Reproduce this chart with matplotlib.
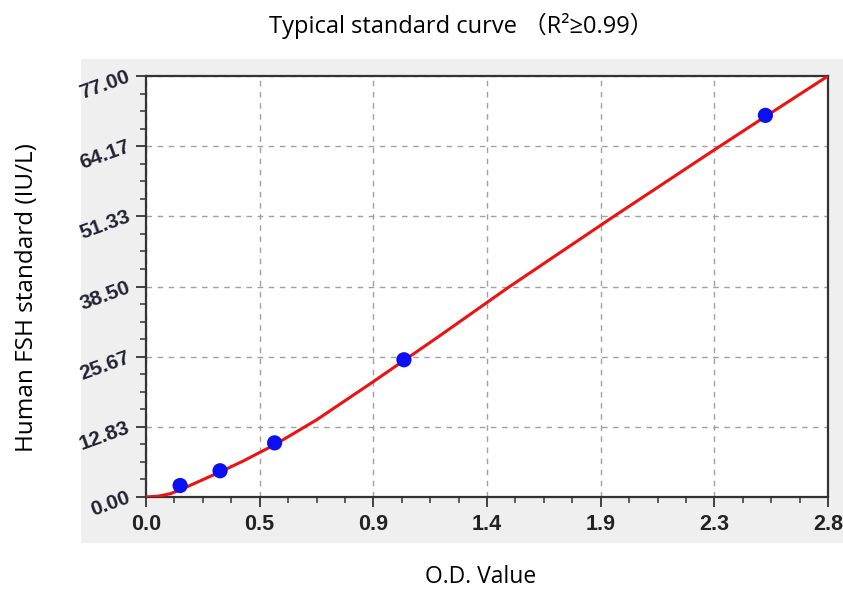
import numpy as np
import matplotlib
matplotlib.use("Agg")
import matplotlib.pyplot as plt
from matplotlib.ticker import FixedLocator, AutoMinorLocator

# standard points (O.D., concentration)
od_points = [0.140, 0.304, 0.528, 1.059, 2.543]
conc_points = [2.1, 4.8, 9.9, 25.1, 69.8]

# fitted curve
curve_od = [0.0, 0.05, 0.10, 0.15, 0.20, 0.30, 0.40, 0.53, 0.70, 0.93, 1.06,
            1.20, 1.49, 1.92, 2.32, 2.54, 2.80]
curve_conc = [0.0, 0.15, 0.6, 1.5, 2.5, 4.5, 6.6, 9.6, 14.1, 21.0, 25.0,
              29.3, 38.4, 51.3, 63.1, 69.5, 77.0]

x_ticks = np.linspace(0, 2.8, 7)
x_ticklabels = ["0.0", "0.5", "0.9", "1.4", "1.9", "2.3", "2.8"]
y_ticks = np.linspace(0, 77, 7)
y_ticklabels = ["0.00", "12.83", "25.67", "38.50", "51.33", "64.17", "77.00"]

fig = plt.figure(figsize=(8.43, 5.90), dpi=100)
fig.patch.set_facecolor("white")

# gray panel behind the plot
bg = fig.add_axes([81 / 843, 1 - 543 / 590, 1 - 81 / 843, (543 - 59) / 590], zorder=0)
bg.set_facecolor("#efefef")
bg.set_xticks([])
bg.set_yticks([])
for s in bg.spines.values():
    s.set_visible(False)

ax = fig.add_axes([146 / 843, 1 - 497 / 590, (828 - 146) / 843, (497 - 76) / 590], zorder=1)
ax.set_facecolor("white")

ax.plot(curve_od, curve_conc, color="#ee1111", lw=2.2, zorder=3)
ax.scatter(od_points, conc_points, s=120, color="#0a10f0", zorder=4, edgecolors="none")

ax.set_xlim(0, 2.8)
ax.set_ylim(0, 77)
ax.xaxis.set_major_locator(FixedLocator(x_ticks))
ax.yaxis.set_major_locator(FixedLocator(y_ticks))
ax.set_xticklabels(x_ticklabels, fontfamily="Liberation Sans", fontweight="bold",
                   fontsize=15.5, color="#222222")
ax.set_yticklabels(y_ticklabels, fontfamily="Liberation Sans", fontweight="bold",
                   fontsize=15, color="#222233", rotation=20,
                   rotation_mode="anchor", ha="right", va="center")
ax.xaxis.set_minor_locator(AutoMinorLocator(4))
ax.yaxis.set_minor_locator(AutoMinorLocator(4))
ax.tick_params(which="major", direction="out", length=7, width=1.3, color="#333333")
ax.tick_params(axis="x", which="major", pad=5)
ax.tick_params(axis="y", which="major", pad=5)
ax.tick_params(which="minor", direction="out", length=4, width=1.1, color="#333333")

ax.grid(True, which="major", linestyle=(0, (4, 4)), color="#a0a0a0", lw=1)
for side in ["left", "bottom", "right", "top"]:
    ax.spines[side].set_color("#333333")
    ax.spines[side].set_linewidth(1.6)

fig.text(0.547, 1 - 26 / 590, "Typical standard curve （R²≥0.99）", ha="center",
         va="center", fontsize=17,
         fontfamily=["Open Sans", "Noto Sans CJK SC", "DejaVu Sans"])
fig.text(0.57, 1 - 577 / 590, "O.D. Value", ha="center", va="center",
         fontsize=16.5, fontfamily="Open Sans")
fig.text(27 / 843, 1 - 298 / 590, "Human FSH standard (IU/L)", ha="center", va="center",
         rotation=90, fontsize=17.5, fontfamily="Open Sans")

fig.savefig("out.png", dpi=100)
